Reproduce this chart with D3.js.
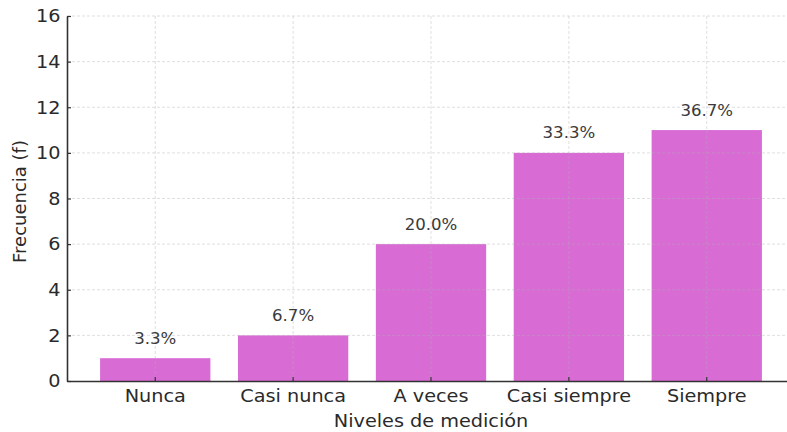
<!DOCTYPE html>
<html>
<head>
<meta charset="utf-8">
<script src="https://cdn.jsdelivr.net/npm/d3@7"></script>
<style>
  html, body { margin: 0; padding: 0; background: #fff; }
  svg { display: block; font-family: "DejaVu Sans", sans-serif; }
</style>
</head>
<body>
<div id="chart"></div>
<script>
const categories = ['Nunca', 'Casi nunca', 'A veces', 'Casi siempre', 'Siempre'];
const frequencies = [1, 2, 6, 10, 11];
const percentLabels = ['3.3%', '6.7%', '20.0%', '33.3%', '36.7%'];
const yTicks = [0, 2, 4, 6, 8, 10, 12, 14, 16];

const width = 787, height = 432;
// plot area (right edge runs past the window, like the cropped original)
const plot = { left: 67, right: 795, top: 16, bottom: 381 };
const stretch = 'scale(1.07,1)'; // the source image is a bit wider than tall

const svg = d3.select('#chart')
  .append('svg')
  .attr('width', width)
  .attr('height', height);

const x = d3.scaleBand()
  .domain(categories)
  .range([plot.left, plot.right])
  .paddingInner(0.2)
  .paddingOuter(0.24);

const y = d3.scaleLinear()
  .domain([0, 16])
  .range([plot.bottom, plot.top]);

// Bars
svg.selectAll('rect.bar')
  .data(frequencies)
  .enter()
  .append('rect')
  .attr('class', 'bar')
  .attr('x', (d, i) => x(categories[i]))
  .attr('y', d => y(d))
  .attr('width', x.bandwidth())
  .attr('height', d => y(0) - y(d))
  .attr('fill', '#d86cd4');

// Grid (drawn over the bars, faint)
const grid = svg.append('g')
  .attr('stroke', '#b0b0b0')
  .attr('stroke-opacity', 0.5)
  .attr('stroke-width', 0.8)
  .attr('stroke-dasharray', '3,2');

grid.selectAll('line.h')
  .data(yTicks.slice(1))
  .enter()
  .append('line')
  .attr('x1', plot.left).attr('x2', plot.right)
  .attr('y1', d => y(d)).attr('y2', d => y(d));

grid.selectAll('line.v')
  .data(categories)
  .enter()
  .append('line')
  .attr('x1', d => x(d) + x.bandwidth() / 2)
  .attr('x2', d => x(d) + x.bandwidth() / 2)
  .attr('y1', plot.top).attr('y2', plot.bottom);

// Axes
const yAxis = svg.append('g')
  .attr('transform', `translate(${plot.left},0)`)
  .call(d3.axisLeft(y).tickValues(yTicks).tickSizeInner(-4).tickSizeOuter(0).tickPadding(6));

const xAxis = svg.append('g')
  .attr('transform', `translate(0,${plot.bottom})`)
  .call(d3.axisBottom(x).tickSizeInner(-4).tickSizeOuter(0).tickPadding(9));

[yAxis, xAxis].forEach(g => {
  g.select('.domain').attr('stroke', '#333').attr('stroke-width', 1.6);
  g.selectAll('.tick line').attr('stroke', '#333').attr('stroke-width', 1.2);
  g.selectAll('.tick text')
    .attr('fill', '#2a2a2a')
    .attr('transform', stretch)
    .style('font-family', '"DejaVu Sans", sans-serif')
    .style('font-size', '18px');
});
xAxis.selectAll('.tick text').attr('dy', '0.68em');

// Percent labels
svg.selectAll('text.pct')
  .data(frequencies)
  .enter()
  .append('text')
  .attr('class', 'pct')
  .attr('transform', (d, i) =>
    `translate(${x(categories[i]) + x.bandwidth() / 2},${y(d + 0.5) - 3}) ${stretch}`)
  .attr('text-anchor', 'middle')
  .attr('fill', '#3a3a3a')
  .style('font-size', '15.5px')
  .text((d, i) => percentLabels[i]);

// Axis titles
svg.append('text')
  .attr('transform', `translate(431,427) ${stretch}`)
  .attr('text-anchor', 'middle')
  .attr('fill', '#2a2a2a')
  .style('font-size', '18px')
  .text('Niveles de medición');

svg.append('text')
  .attr('transform', `translate(26,${(plot.top + plot.bottom) / 2 + 3}) rotate(-90)`)
  .attr('text-anchor', 'middle')
  .attr('fill', '#2a2a2a')
  .style('font-size', '18px')
  .text('Frecuencia (f)');
</script>
</body>
</html>
